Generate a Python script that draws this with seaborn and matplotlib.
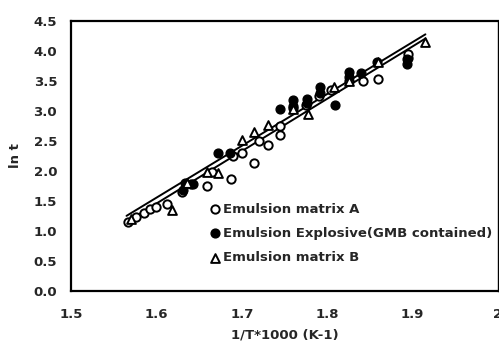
import matplotlib
matplotlib.use("Agg")
import matplotlib.pyplot as plt
import seaborn as sns
import pandas as pd

# Emulsion matrix A (open circles)
a_x = [1.567, 1.576, 1.585, 1.593, 1.600, 1.612, 1.630, 1.640, 1.659, 1.665, 1.687, 1.690,
       1.700, 1.714, 1.720, 1.731, 1.745, 1.745, 1.760, 1.775, 1.790, 1.805, 1.825, 1.842,
       1.860, 1.895, 1.895]
a_y = [1.15, 1.23, 1.30, 1.36, 1.40, 1.45, 1.65, 1.78, 1.74, 1.98, 1.87, 2.25,
       2.30, 2.13, 2.50, 2.43, 2.60, 2.75, 3.05, 3.10, 3.25, 3.35, 3.50, 3.50,
       3.52, 3.87, 3.95]

# Emulsion Explosive (GMB contained) (filled circles)
e_x = [1.631, 1.633, 1.643, 1.672, 1.686, 1.745, 1.760, 1.760, 1.776, 1.776, 1.792, 1.792,
       1.809, 1.825, 1.825, 1.840, 1.858, 1.893, 1.893]
e_y = [1.68, 1.80, 1.78, 2.29, 2.29, 3.03, 3.17, 3.08, 3.20, 3.12, 3.39, 3.30,
       3.09, 3.64, 3.56, 3.62, 3.81, 3.78, 3.86]

# Emulsion matrix B (open triangles)
b_x = [1.570, 1.618, 1.636, 1.659, 1.672, 1.700, 1.714, 1.731, 1.760, 1.778, 1.808, 1.826,
       1.860, 1.915]
b_y = [1.20, 1.35, 1.80, 1.98, 1.96, 2.51, 2.65, 2.76, 3.03, 2.95, 3.39, 3.50,
       3.81, 4.14]

# Regression lines (end points)
line1_x = [1.565, 1.915]
line1_y = [1.15, 4.20]
line2_x = [1.565, 1.915]
line2_y = [1.25, 4.27]

x_ticks = [1.5, 1.6, 1.7, 1.8, 1.9, 2.0]
x_tick_labels = ["1.5", "1.6", "1.7", "1.8", "1.9", "2"]
y_ticks = [0.0, 0.5, 1.0, 1.5, 2.0, 2.5, 3.0, 3.5, 4.0, 4.5]
y_tick_labels = ["0.0", "0.5", "1.0", "1.5", "2.0", "2.5", "3.0", "3.5", "4.0", "4.5"]

sns.set_style("white")
plt.rcParams['font.family'] = ['DejaVu Sans']
plt.rcParams['font.weight'] = 'bold'

fig = plt.figure(figsize=(4.99, 3.5), dpi=100)
ax = fig.add_axes([71 / 499, 1 - 291 / 350, (498 - 71) / 499, (291 - 20.5) / 350])

sns.lineplot(x=line1_x, y=line1_y, ax=ax, color="black", lw=1.4, zorder=1)
sns.lineplot(x=line2_x, y=line2_y, ax=ax, color="black", lw=1.4, zorder=1)

dfa = pd.DataFrame({"x": a_x, "y": a_y})
dfe = pd.DataFrame({"x": e_x, "y": e_y})
dfb = pd.DataFrame({"x": b_x, "y": b_y})

sns.scatterplot(data=dfa, x="x", y="y", ax=ax, marker="o", s=36, facecolor="white",
                edgecolor="black", linewidth=1.4, label="Emulsion matrix A", zorder=3)
sns.scatterplot(data=dfe, x="x", y="y", ax=ax, marker="o", s=40, color="black",
                edgecolor="black", linewidth=1.0, label="Emulsion Explosive(GMB contained)", zorder=3)
sns.scatterplot(data=dfb, x="x", y="y", ax=ax, marker="^", s=40, facecolor="white",
                edgecolor="black", linewidth=1.4, label="Emulsion matrix B", zorder=3)

ax.set_xlim(1.5, 2.0)
ax.set_ylim(0.0, 4.5)
ax.set_xticks(x_ticks)
ax.set_xticklabels(x_tick_labels, fontsize=9.5, fontweight="bold")
ax.set_yticks(y_ticks)
ax.set_yticklabels(y_tick_labels, fontsize=9.5, fontweight="bold")
ax.tick_params(direction="in", length=3, width=1, pad=10)
ax.tick_params(axis="x", pad=12)
ax.set_xlabel("1/T*1000 (K-1)", fontsize=9.5, fontweight="bold", labelpad=6)
ax.set_ylabel("ln t", fontsize=9.5, fontweight="bold", labelpad=8)

for side in ["left", "bottom", "top"]:
    ax.spines[side].set_linewidth(1.6)
    ax.spines[side].set_color("black")
ax.spines["right"].set_linewidth(1.0)
ax.spines["right"].set_color("black")

leg = ax.legend(loc="lower left", bbox_to_anchor=(0.31, 0.08), frameon=False,
                prop={"size": 9.5, "weight": "bold"}, handletextpad=0.1,
                labelspacing=0.85, borderaxespad=0, handlelength=1.0)

fig.savefig("out.png", dpi=100)
